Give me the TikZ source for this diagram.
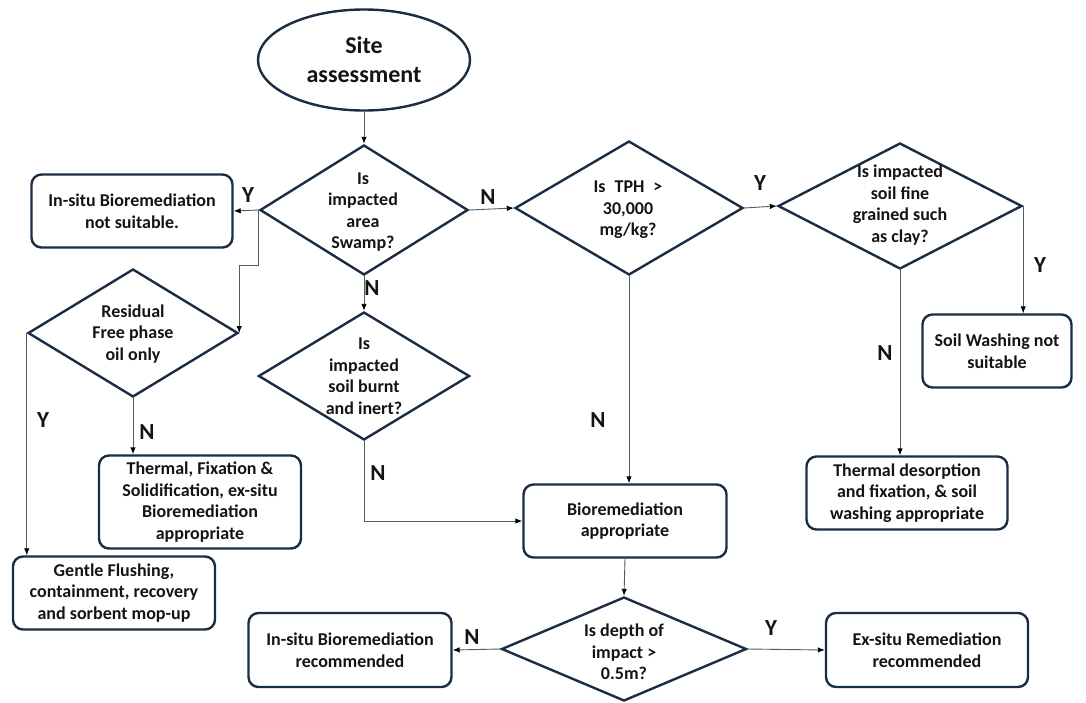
\documentclass[tikz,border=0pt]{standalone}
\usepackage{fontspec}
\setmainfont{Carlito}
\usetikzlibrary{shapes.geometric,arrows.meta}
\definecolor{edge}{HTML}{1B2D42}
\definecolor{wire}{HTML}{4F5F5F}
\definecolor{ink}{HTML}{141414}
\begin{document}
\begin{tikzpicture}[x=1pt,y=-1pt,
  box/.style={draw=edge,line width=2.4pt,rounded corners=10pt,fill=white,align=center,
    text=ink,font=\fontsize{18}{21.5}\bfseries\selectfont,inner sep=0pt},
  dec/.style={draw=edge,line width=2.4pt,diamond,inner sep=0pt,fill=white},
  dtext/.style={align=center,text=ink,font=\fontsize{18}{21.5}\bfseries\selectfont,inner sep=0pt},
  arr/.style={draw=wire,line width=0.9pt,-{Latex[length=7pt,width=5.5pt,color=black]}},
  yn/.style={text=ink,font=\fontsize{23}{23}\bfseries\selectfont,inner sep=0pt},
]
\fill[white] (0,0) rectangle (1086,702);
\useasboundingbox (0,0) rectangle (1086,702);

% start
\node[draw=edge,line width=2.4pt,ellipse,minimum width=212pt,minimum height=101pt,
  inner sep=0pt,align=center,text=ink,font=\fontsize{24}{29}\bfseries\selectfont] (sa) at (364,60) {Site\\assessment};

% decisions
\node[dec,minimum width=208pt,minimum height=130pt] (d1) at (364,210) {};
\node[dtext] (d1t) at (363,212) {Is\\impacted\\area\\Swamp?};

\node[dec,minimum width=210pt,minimum height=128pt] (d2) at (133,333) {};
\node[dtext] (d2t) at (133,334) {Residual\\Free phase\\oil only};

\node[dec,minimum width=211pt,minimum height=128pt] (d3) at (364,376) {};
\node[dtext] (d3t) at (364,376) {Is\\impacted\\soil burnt\\and inert?};

\node[dec,minimum width=228pt,minimum height=134pt] (d4) at (629,208) {};
\node[dtext] (d4t) at (628,210) {Is\enspace TPH\enspace >\\30,000\\mg/kg?};

\node[dec,minimum width=244pt,minimum height=126pt] (d5) at (900,206) {};
\node[dtext] (d5t) at (900,205) {Is impacted\\soil fine\\grained such\\as clay?};

\node[dec,minimum width=245pt,minimum height=104pt] (d6) at (624,649) {};
\node[dtext] (d6t) at (624,652) {Is depth of\\impact >\\0.5m?};

% outcomes
\node[box,minimum width=201pt,minimum height=73pt] (b1) at (132,211) {In-situ Bioremediation\\not suitable.};
\node[box,minimum width=149pt,minimum height=73pt] (b2) at (997,351) {Soil Washing not\\suitable};
\node[box,minimum width=201pt,minimum height=73pt] (b3) at (907,493) {Thermal desorption\\and fixation, \& soil\\washing appropriate};
\node[box,minimum width=203pt,minimum height=73pt] (b4) at (625,521) {Bioremediation\\appropriate};
\node[box,minimum width=202pt,minimum height=93pt] (b5) at (200,502) {Thermal, Fixation \&\\Solidification, ex-situ\\Bioremediation\\appropriate};
\node[box,minimum width=202pt,minimum height=73pt] (b6) at (114,593) {Gentle Flushing,\\containment, recovery\\and sorbent mop-up};
\node[box,minimum width=203pt,minimum height=74pt] (b7) at (350,650) {In-situ Bioremediation\\recommended};
\node[box,minimum width=202pt,minimum height=74pt] (b8) at (927,650) {Ex-situ Remediation\\recommended};

% connectors
\draw[arr] (sa.south) -- (d1.north);
\draw[arr] (d1.west) -- (b1.east);
\draw[arr] (d1.west) -- ++(0,55) -| (d2.east);
\draw[arr] (d1.east) -- (d4.west);
\draw[arr] (d1.south) -- (d3.north);
\draw[arr] (d4.east) -- (d5.west);
\draw[arr] (d5.east) -- (d5.east |- b2.north);
\draw[arr] (d5.south) -- (d5.south |- b3.north);
\draw[arr] (d4.south) -- (d4.south |- b4.north);
\draw[arr] (d3.south) |- (b4.west);
\draw[arr] (d2.west) -- (d2.west |- b6.north);
\draw[arr] (d2.south) -- (d2.south |- b5.north);
\draw[arr] (b4.south) -- (d6.north);
\draw[arr] (d6.west) -- (b7.east);
\draw[arr] (d6.east) -- (b8.west);

% branch labels
\node[yn] (l1) at (248,195) {Y};
\node[yn] (l2) at (488,197) {N};
\node[yn] (l3) at (372,288) {N};
\node[yn] (l4) at (760,183) {Y};
\node[yn] (l5) at (1040,265) {Y};
\node[yn] (l6) at (885,353) {N};
\node[yn] (l7) at (598,420) {N};
\node[yn] (l8) at (378,473) {N};
\node[yn] (l9) at (43,420) {Y};
\node[yn] (l10) at (147,432) {N};
\node[yn] (l11) at (472,637) {N};
\node[yn] (l12) at (771,628) {Y};
\end{tikzpicture}
\end{document}
